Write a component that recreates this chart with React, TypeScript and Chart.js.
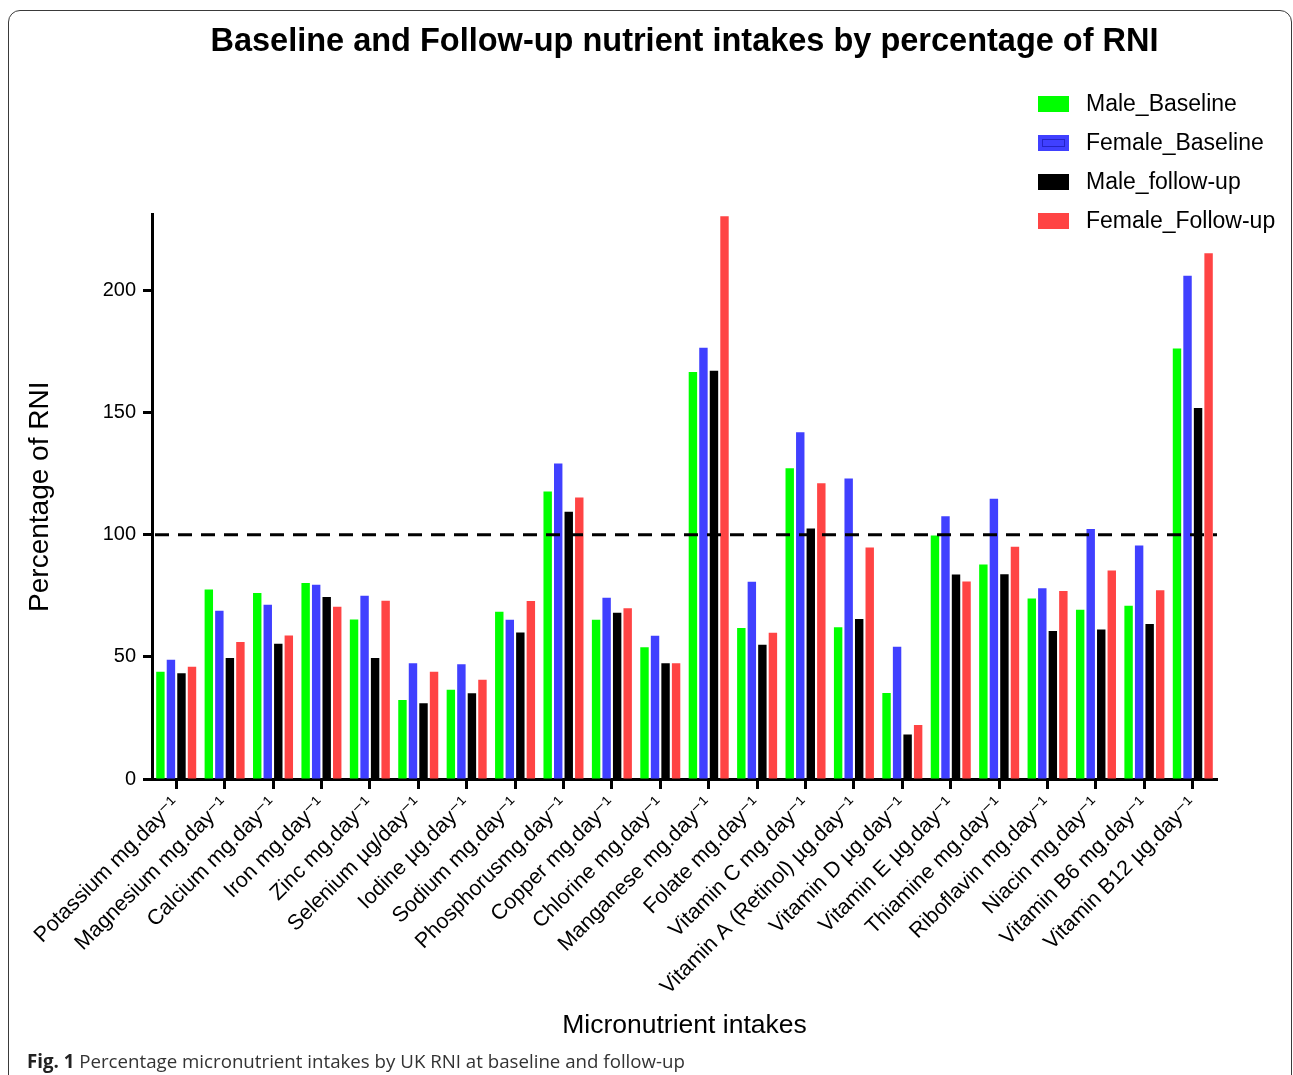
import React, { useEffect, useRef } from 'react';
import { Chart, registerables } from 'chart.js';

Chart.register(...registerables);

const categories: string[] = [
  'Potassium mg.day⁻¹',
  'Magnesium mg.day⁻¹',
  'Calcium mg.day⁻¹',
  'Iron mg.day⁻¹',
  'Zinc mg.day⁻¹',
  'Selenium µg/day⁻¹',
  'Iodine µg.day⁻¹',
  'Sodium mg.day⁻¹',
  'Phosphorusmg.day⁻¹',
  'Copper mg.day⁻¹',
  'Chlorine mg.day⁻¹',
  'Manganese mg.day⁻¹',
  'Folate mg.day⁻¹',
  'Vitamin C mg.day⁻¹',
  'Vitamin A (Retinol) µg.day⁻¹',
  'Vitamin D µg.day⁻¹',
  'Vitamin E µg.day⁻¹',
  'Thiamine mg.day⁻¹',
  'Riboflavin mg.day⁻¹',
  'Niacin mg.day⁻¹',
  'Vitamin B6 mg.day⁻¹',
  'Vitamin B12 µg.day⁻¹',
];

const maleBaseline: number[] = [43.9, 77.5, 76.1, 80.2, 65.3, 32.3, 36.5, 68.4, 117.6, 65.2, 53.9, 166.6, 61.8, 127.2, 62.1, 35.2, 99.6, 87.8, 73.9, 69.3, 70.9, 176.2];
const femaleBaseline: number[] = [48.8, 68.9, 71.3, 79.5, 75.0, 47.4, 47.0, 65.2, 129.1, 74.2, 58.6, 176.5, 80.7, 141.9, 123.0, 54.1, 107.5, 114.7, 78.1, 102.3, 95.6, 205.9];
const maleFollowUp: number[] = [43.3, 49.5, 55.3, 74.5, 49.5, 31.0, 35.1, 60.0, 109.4, 68.0, 47.4, 167.1, 54.9, 102.5, 65.5, 18.2, 83.7, 83.8, 60.6, 61.2, 63.4, 151.8];
const femaleFollowUp: number[] = [45.9, 56.1, 58.7, 70.5, 72.9, 43.9, 40.6, 72.8, 115.2, 69.9, 47.4, 230.3, 59.8, 121.0, 94.7, 22.1, 80.8, 95.0, 76.9, 85.3, 77.2, 215.1];

const seriesNames: string[] = ['Male_Baseline', 'Female_Baseline', 'Male_follow-up', 'Female_Follow-up'];
const seriesColors: string[] = ['#00ff00', '#4040ff', '#000000', '#ff4444'];

const yTickValues: number[] = [0, 50, 100, 150, 200];
const yMax = 231;
const referenceLine = 100;

const FONT = "'Liberation Sans', 'DejaVu Sans', Arial, sans-serif";

const refLinePlugin = {
  id: 'refLine',
  afterDatasetsDraw(chart: any) {
    const { ctx, chartArea, scales } = chart;
    const y = scales.y.getPixelForValue(referenceLine);
    ctx.save();
    ctx.strokeStyle = '#000';
    ctx.lineWidth = 3;
    ctx.setLineDash([14, 9]);
    ctx.beginPath();
    ctx.moveTo(chartArea.left + 3, y);
    ctx.lineTo(chartArea.right, y);
    ctx.stroke();
    ctx.restore();
  },
};

const legendPlugin = {
  id: 'customLegend',
  afterDraw(chart: any) {
    const { ctx } = chart;
    const x0 = 1038;
    const rows = [104, 143, 182, 221];
    ctx.save();
    ctx.font = `23px ${FONT}`;
    ctx.textBaseline = 'middle';
    ctx.textAlign = 'left';
    chart.data.datasets.forEach((ds: any, i: number) => {
      const cy = rows[i];
      ctx.fillStyle = ds.backgroundColor;
      ctx.fillRect(x0, cy - 8, 31, 16);
      if (i === 1) {
        ctx.strokeStyle = '#2424c8';
        ctx.lineWidth = 1;
        ctx.strokeRect(x0 + 4.5, cy - 3.5, 22, 7);
      }
      ctx.fillStyle = '#000';
      ctx.fillText(ds.label, 1086, cy + 1);
    });
    ctx.restore();
  },
};

export default function App() {
  const canvasRef = useRef<HTMLCanvasElement | null>(null);

  useEffect(() => {
    if (!canvasRef.current) return;
    Chart.defaults.font.family = FONT;
    const series = [maleBaseline, femaleBaseline, maleFollowUp, femaleFollowUp];
    const chart = new Chart(canvasRef.current, {
      type: 'bar',
      data: {
        labels: categories,
        datasets: series.map((d, i) => ({
          label: seriesNames[i],
          data: d,
          backgroundColor: seriesColors[i],
          borderWidth: 0,
          categoryPercentage: 0.87,
          barPercentage: 0.8,
        })),
      },
      options: {
        responsive: false,
        animation: false,
        devicePixelRatio: 1,
        layout: { padding: { left: 10, right: 76, top: 10, bottom: 33 } },
        plugins: {
          legend: { display: false },
          tooltip: { enabled: false },
          title: {
            display: true,
            fullSize: false,
            text: 'Baseline and Follow-up nutrient intakes by percentage of RNI',
            color: '#000',
            font: { family: FONT, size: 32.5, weight: 'bold', lineHeight: 1.2 },
            padding: { top: 12.5, bottom: 153 },
          },
        },
        scales: {
          x: {
            type: 'category',
            offset: true,
            grid: {
              display: true,
              offset: false,
              drawOnChartArea: false,
              drawTicks: true,
              tickLength: 10,
              tickWidth: 3,
              tickColor: '#000',
            },
            border: { display: true, color: '#000', width: 3 },
            ticks: {
              color: '#000',
              font: { family: FONT, size: 21.5 },
              maxRotation: 45,
              minRotation: 45,
              autoSkip: false,
              padding: 3,
            },
            title: {
              display: true,
              text: 'Micronutrient intakes',
              color: '#000',
              font: { family: FONT, size: 26.5, lineHeight: 1.2 },
              padding: { top: 0, bottom: 0 },
            },
            afterFit(scale: any) {
              scale.height = 263;
            },
          },
          y: {
            type: 'linear',
            min: 0,
            max: yMax,
            grid: {
              display: true,
              drawOnChartArea: false,
              drawTicks: true,
              tickLength: 9,
              tickWidth: 3,
              tickColor: '#000',
            },
            border: { display: true, color: '#000', width: 3 },
            ticks: {
              color: '#000',
              font: { family: FONT, size: 20 },
              padding: 7,
              includeBounds: false,
              stepSize: 50,
            },
            afterBuildTicks(scale: any) {
              scale.ticks = yTickValues.map((v) => ({ value: v }));
            },
            title: {
              display: true,
              text: 'Percentage of RNI',
              color: '#000',
              font: { family: FONT, size: 28, lineHeight: 1.2 },
              padding: { top: 13, bottom: 0 },
            },
            afterFit(scale: any) {
              scale.width = 142;
            },
          },
        },
      } as any,
      plugins: [refLinePlugin, legendPlugin],
    });
    return () => chart.destroy();
  }, []);

  return (
    <div
      style={{
        position: 'absolute',
        left: 0,
        top: 0,
        width: 1293,
        height: 1075,
        overflow: 'hidden',
        background: '#fff',
      }}
    >
      <div
        style={{
          position: 'absolute',
          left: 8,
          top: 10,
          width: 1284,
          height: 1200,
          border: '1.5px solid #3a3a3a',
          borderRadius: 12,
          boxSizing: 'border-box',
        }}
      />
      <canvas
        ref={canvasRef}
        width={1293}
        height={1075}
        style={{ position: 'absolute', left: 0, top: 0, width: 1293, height: 1075 }}
      />
      <div
        style={{
          position: 'absolute',
          left: 27,
          top: 1049,
          fontFamily: "'Open Sans', 'Noto Sans', sans-serif",
          fontSize: 18.7,
          color: '#333',
          whiteSpace: 'nowrap',
          lineHeight: '24px',
        }}
      >
        <span style={{ fontWeight: 'bold', color: '#222' }}>Fig. 1</span> Percentage micronutrient intakes by UK RNI at baseline and follow-up
      </div>
    </div>
  );
}
